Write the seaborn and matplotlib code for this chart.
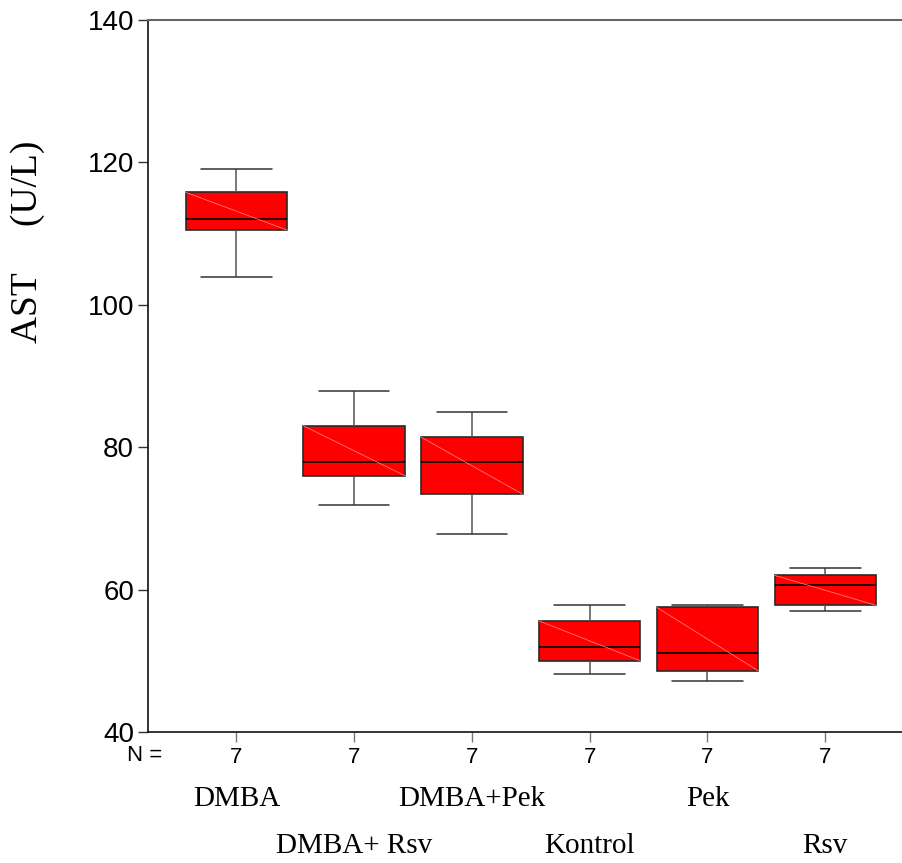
import pandas as pd
import seaborn as sns
import matplotlib.pyplot as plt
from matplotlib import transforms

# seven AST values per group
groups = ["DMBA", "DMBA+ Rsv", "DMBA+Pek", "Kontrol", "Pek", "Rsv"]
ast_dmba = [103.9, 110.0, 111.0, 112.0, 115.0, 116.6, 119.1]
ast_dmba_rsv = [71.9, 75.5, 76.5, 77.9, 82.0, 84.0, 87.9]
ast_dmba_pek = [67.8, 72.8, 74.0, 77.9, 80.8, 82.0, 84.9]
ast_kontrol = [48.1, 49.6, 50.4, 51.9, 55.0, 56.2, 57.8]
ast_pek = [47.1, 48.2, 49.0, 51.1, 57.3, 57.7, 57.8]
ast_rsv = [57.0, 57.6, 58.0, 60.7, 61.8, 62.2, 63.1]
y_ticks = [40, 60, 80, 100, 120, 140]

values = [ast_dmba, ast_dmba_rsv, ast_dmba_pek, ast_kontrol, ast_pek, ast_rsv]
df = pd.DataFrame(
    [(g, v) for g, vals in zip(groups, values) for v in vals],
    columns=["group", "AST"],
)
counts = df.groupby("group", sort=False)["AST"].count()

sns.set_style("ticks")
plt.rcParams["font.family"] = ["Liberation Sans", "DejaVu Sans"]
plt.rcParams["text.color"] = "black"
plt.rcParams["axes.labelcolor"] = "black"
plt.rcParams["xtick.labelcolor"] = "black"
plt.rcParams["ytick.labelcolor"] = "black"

fig = plt.figure(figsize=(9.03, 8.63), dpi=100)
ax = fig.add_axes([148 / 903, 1 - 732 / 863, 1 - 148 / 903, (732 - 20) / 863])

sns.boxplot(
    data=df, x="group", y="AST", order=groups, ax=ax,
    color="#ff0000", saturation=1, width=0.86, capwidths=0.6,
    whis=1.5, fliersize=0,
    boxprops={"edgecolor": "#2a2a2a", "linewidth": 1.2},
    medianprops={"color": "#000000", "linewidth": 1.2},
    whiskerprops={"color": "#555555", "linewidth": 1.1},
    capprops={"color": "#333333", "linewidth": 1.1},
)

# faint diagonal inside each box (SPSS look)
for p in list(ax.patches):
    ext = p.get_path().get_extents()
    ax.plot([ext.x0, ext.x1], [ext.y1, ext.y0], color="#ff7a7a",
            linewidth=0.6, zorder=p.get_zorder() + 0.1)

ax.set_ylim(40, 140)
ax.set_xlim(-0.75, 5.66)
ax.set_yticks(y_ticks)
ax.set_yticklabels([str(t) for t in y_ticks], fontsize=20)
ax.set_xticks(range(len(groups)))
ax.set_xticklabels([str(counts[g]) for g in groups], fontsize=16)
ax.tick_params(axis="y", length=7, width=1, color="#333333", pad=3)
ax.tick_params(axis="x", length=7, width=1, color="#777777", pad=4)

ax.set_xlabel("")
ax.set_ylabel("AST     (U/L)", fontsize=27, family=["Liberation Serif"])
ax.yaxis.set_label_coords(-0.136, 0.688)

for side in ["left", "bottom"]:
    ax.spines[side].set_color("#111111")
    ax.spines[side].set_linewidth(1.2)
ax.spines["top"].set_color("#666666")
ax.spines["top"].set_linewidth(1.5)
ax.spines["right"].set_visible(False)

# "N =" row label and staggered group names below the axis
trans = transforms.blended_transform_factory(ax.transData, ax.transAxes)
ax.text(-0.63, -0.033, "N =", transform=trans, ha="right", va="center",
        fontsize=16)
for i, g in enumerate(groups):
    y = -0.094 if i % 2 == 0 else -0.16
    ax.text(i, y, g, transform=trans, ha="center", va="center",
            fontsize=21, family=["Liberation Serif"])

fig.savefig("out.png", dpi=100)
